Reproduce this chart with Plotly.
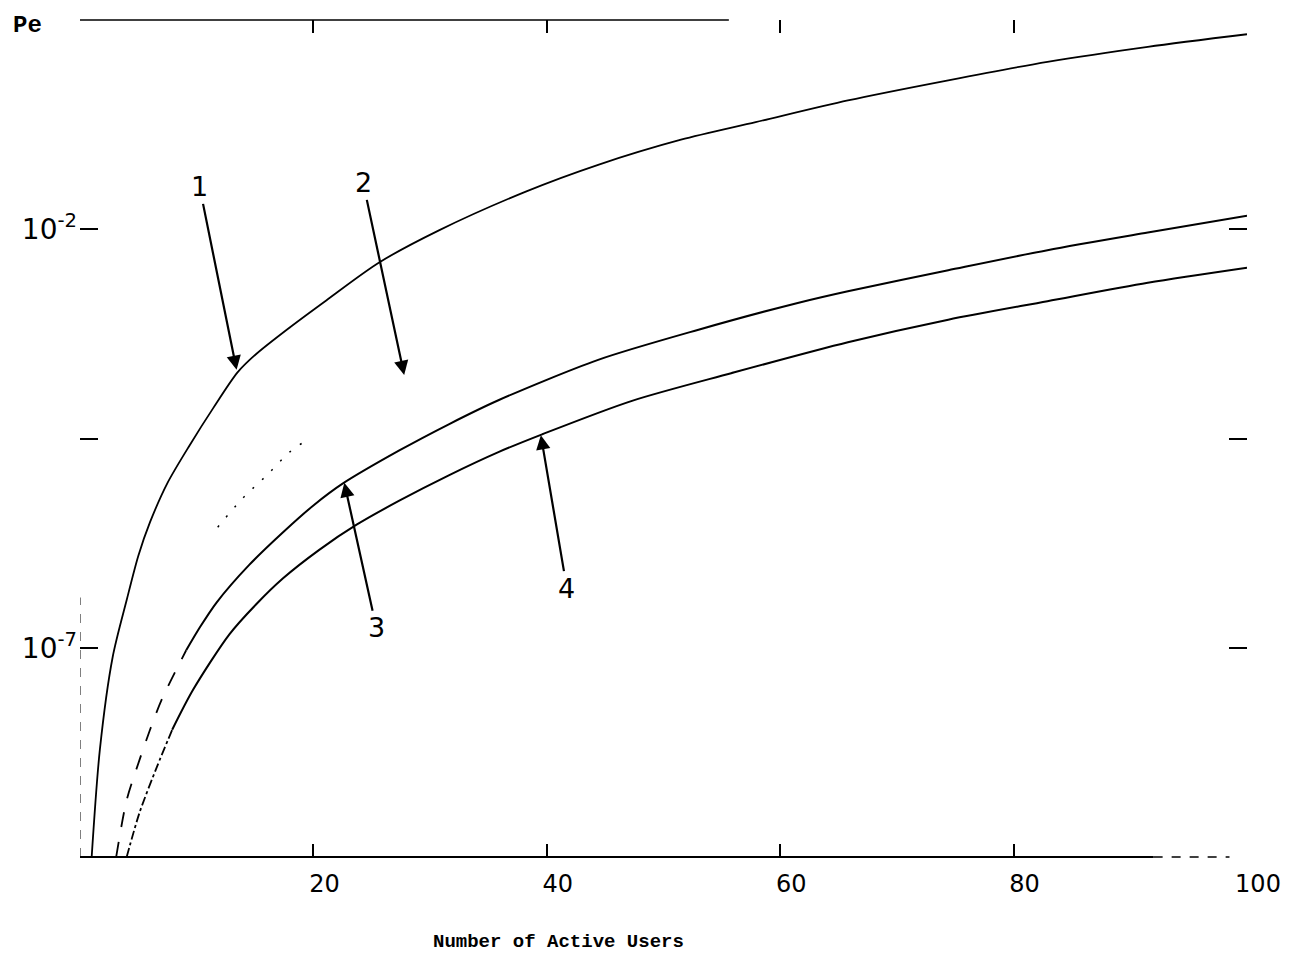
import plotly.graph_objects as go

# ---- data (x = number of active users, values = log10(Pe)) ----
c1_x = [1.0, 1.7, 2.8, 4.0, 5.0, 6.0, 7.5, 9.4, 11.4, 13.5, 15.1, 18.0, 21.1, 25.6, 30.8, 38.2, 44.4, 51.5, 57.9, 65.8, 74.4, 82.9, 91.5, 100]
c1_log = [-9.5, -8.22, -7.11, -6.43, -5.90, -5.50, -5.03, -4.58, -4.14, -3.71, -3.49, -3.17, -2.85, -2.40, -2.01, -1.55, -1.23, -0.93, -0.72, -0.46, -0.22, 0.0, 0.18, 0.33]

c2_x = [11.8, 13.9, 16.0, 17.9, 19.1]
c2_log = [-5.56, -5.22, -4.94, -4.67, -4.55]

c3_x = [3.1, 4.0, 5.1, 6.0, 7.0, 9.1, 10.3, 11.7, 14.5, 17.4, 20.0, 22.5, 27.4, 31.6, 35.9, 44.4, 53.0, 61.5, 65.8, 74.4, 82.9, 91.5, 100]
c3_log = [-9.5, -8.82, -8.34, -7.98, -7.62, -7.03, -6.75, -6.46, -6.01, -5.62, -5.30, -5.04, -4.64, -4.33, -4.04, -3.56, -3.20, -2.88, -2.74, -2.49, -2.25, -2.04, -1.84]

c4_x = [4.0, 5.1, 6.6, 7.9, 9.7, 12.8, 15.1, 17.4, 20.5, 23.7, 27.4, 31.6, 35.9, 39.6, 47.3, 55.8, 65.8, 74.4, 82.9, 91.5, 100]
c4_log = [-9.5, -8.97, -8.42, -7.98, -7.50, -6.84, -6.48, -6.17, -5.83, -5.53, -5.24, -4.94, -4.66, -4.45, -4.05, -3.72, -3.35, -3.08, -2.86, -2.64, -2.46]

x_ticks = [20, 40, 60, 80, 100]
x_ticktext = ["20", "40", "60", "80", "100"]
y_tickvals = [1e-2, 10 ** -4.5, 1e-7]
y_ticktext = ["10<sup>-2</sup>", "", "10<sup>-7</sup>"]

# curve labels: (label, x, log10 Pe of arrow tip, tail offset px)
labels = [("1", 13.42, -3.68, -37, -183),
          ("2", 27.78, -3.74, -41, -192),
          ("3", 22.65, -5.03, 32, 145),
          ("4", 39.49, -4.46, 26, 153)]


def pe(vals):
    return [10 ** v for v in vals]


def split(xs, ys, xcut):
    lo = [(a, b) for a, b in zip(xs, ys) if a <= xcut]
    hi = [(a, b) for a, b in zip(xs, ys) if a >= xcut]
    return ([p[0] for p in lo], [p[1] for p in lo]), ([p[0] for p in hi], [p[1] for p in hi])


fig = go.Figure()

# curve 1
fig.add_trace(go.Scatter(x=c1_x, y=pe(c1_log), mode="lines",
                         line=dict(color="black", width=1.8, shape="spline", smoothing=0.8), showlegend=False))
# curve 2 (dotted, only faint fragment visible)
fig.add_trace(go.Scatter(x=c2_x, y=pe(c2_log), mode="lines",
                         line=dict(color="black", width=1.5, dash="2px,11px", shape="spline"), showlegend=False))
# curve 3
(lx, ly), (hx, hy) = split(c3_x, c3_log, 9.1)
fig.add_trace(go.Scatter(x=lx, y=pe(ly), mode="lines",
                         line=dict(color="black", width=1.8, dash="longdash", shape="spline", smoothing=0.8), showlegend=False))
fig.add_trace(go.Scatter(x=hx, y=pe(hy), mode="lines",
                         line=dict(color="black", width=2, shape="spline", smoothing=0.8), showlegend=False))
# curve 4
(lx, ly), (hx, hy) = split(c4_x, c4_log, 7.9)
fig.add_trace(go.Scatter(x=lx, y=pe(ly), mode="lines",
                         line=dict(color="black", width=1.8, dash="dashdot", shape="spline", smoothing=0.8), showlegend=False))
fig.add_trace(go.Scatter(x=hx, y=pe(hy), mode="lines",
                         line=dict(color="black", width=2, shape="spline", smoothing=0.8), showlegend=False))

annotations = []
for text, ax_, ay_, dx, dy in labels:
    annotations.append(dict(x=ax_, y=ay_, xref="x", yref="y", text=text, showarrow=True,
                            ax=dx, ay=dy, arrowhead=2, arrowsize=1.3, arrowwidth=2.2,
                            arrowcolor="black", standoff=0,
                            font=dict(family="DejaVu Sans", size=27, color="black")))
annotations.append(dict(x=-0.045, y=1.0, xref="paper", yref="paper", text="<b>Pe</b>",
                        showarrow=False, xanchor="center", yanchor="middle", yshift=-5,
                        font=dict(family="Liberation Mono", size=24, color="black")))
annotations.append(dict(x=0.41, y=-0.101, xref="paper", yref="paper", text="<b>Number of Active Users</b>",
                        showarrow=False, xanchor="center", yanchor="middle",
                        font=dict(family="Liberation Mono", size=19, color="black")))

shapes = [
    dict(type="line", xref="x", yref="paper", x0=0, x1=92, y0=0, y1=0, line=dict(color="black", width=2)),
    dict(type="line", xref="x", yref="paper", x0=92, x1=98.5, y0=0, y1=0, line=dict(color="black", width=1.5, dash="dash")),
    dict(type="line", xref="x", yref="paper", x0=0, x1=55.6, y0=1, y1=1, line=dict(color="black", width=1.5)),
    dict(type="line", xref="x", yref="paper", x0=0, x1=0, y0=0, y1=0.31, line=dict(color="black", width=1, dash="dash")),
]

fig.update_layout(
    width=1285, height=959, autosize=False,
    margin=dict(l=72, r=43, t=12, b=110),
    paper_bgcolor="white", plot_bgcolor="white",
    annotations=annotations, shapes=shapes,
    xaxis=dict(range=[0, 100], tickvals=x_ticks, ticktext=x_ticktext, ticks="inside", ticklen=13,
               tickwidth=1.5, tickcolor="black", mirror="ticks", showline=False, showgrid=False,
               zeroline=False, ticklabelshift=11, ticklabelstandoff=10, ticklabeloverflow="allow",
               tickfont=dict(family="DejaVu Sans", size=24, color="black")),
    yaxis=dict(type="log", range=[-9.5, 0.5], tickvals=y_tickvals, ticktext=y_ticktext, ticks="inside",
               ticklen=18, tickwidth=1.5, tickcolor="black", mirror="ticks", showline=False,
               showgrid=False, zeroline=False, ticklabelstandoff=2,
               tickfont=dict(family="DejaVu Sans", size=28, color="black")),
)

fig.write_html("out.html")
